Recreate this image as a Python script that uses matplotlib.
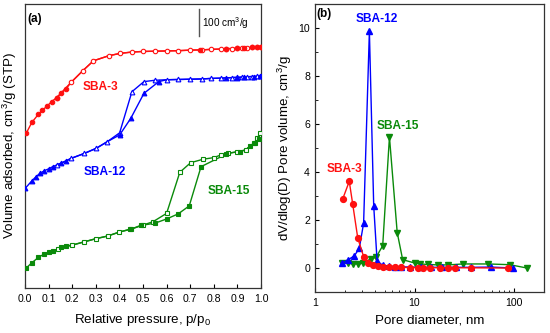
import numpy as np
import matplotlib
matplotlib.use('Agg')
import matplotlib.pyplot as plt
from matplotlib.ticker import MultipleLocator, FixedLocator, LogLocator, NullFormatter

plt.rcParams['font.family'] = ['Liberation Sans', 'DejaVu Sans']
plt.rcParams['mathtext.fontset'] = 'custom'
plt.rcParams['mathtext.rm'] = 'Liberation Sans'
plt.rcParams['mathtext.it'] = 'Liberation Sans:italic'

RED, BLUE, GREEN = '#ff1010', '#0000ff', '#0a8a0a'

# ── (a) isotherms, volume in cm3/g (curves offset) ───────────────────────────
sba3_ads_p = [0.006, 0.029, 0.057, 0.074, 0.093, 0.113, 0.134, 0.154, 0.174,
              0.74, 0.852, 0.90, 0.93, 0.96, 0.985, 0.998]
sba3_ads_v = [582, 621, 652, 667, 682, 699, 714, 730, 747,
              893, 898, 900, 901, 902, 903, 904]
sba3_des_p = [0.998, 0.983, 0.96, 0.94, 0.918, 0.897, 0.876, 0.85, 0.83, 0.79,
              0.75, 0.70, 0.65, 0.60, 0.55, 0.50, 0.455, 0.404, 0.355, 0.29,
              0.245, 0.195, 0.134]
sba3_des_v = [904, 903, 902, 901, 900, 899, 898, 897, 896, 895,
              893, 892, 890, 889, 888, 887, 885, 880, 871, 852,
              815, 771, 714]
sba3_loop = (1.1, 1.1)          # no hysteresis

sba12_ads_p = [0.001, 0.029, 0.046, 0.063, 0.082, 0.10, 0.117, 0.153, 0.174,
               0.401, 0.448, 0.504, 0.567, 0.852, 0.90, 0.93, 0.97, 0.995]
sba12_ads_v = [374, 402, 417, 430, 440, 447, 455, 468, 476,
               574, 636, 730, 774, 788, 789, 791, 793, 794]
sba12_des_p = [0.998, 0.983, 0.96, 0.94, 0.918, 0.897, 0.876, 0.83, 0.79,
               0.75, 0.70, 0.65, 0.60, 0.55, 0.504, 0.453, 0.401, 0.349,
               0.302, 0.252, 0.195, 0.136]
sba12_des_v = [795, 794, 793, 792, 791, 790, 789, 787, 786,
               784, 783, 782, 781, 779, 774, 736, 582, 549,
               524, 505, 486, 462]
sba12_loop = (0.39, 0.58)

sba15_ads_p = [0.004, 0.029, 0.057, 0.082, 0.10, 0.117, 0.153, 0.174, 0.443,
               0.493, 0.55, 0.60, 0.649, 0.696, 0.746, 0.85, 0.91, 0.953,
               0.975, 0.99]
sba15_ads_v = [74, 95, 115, 128, 134, 140, 153, 158, 220,
               236, 243, 259, 278, 308, 455, 501, 511, 533,
               543, 558]
sba15_des_p = [0.995, 0.985, 0.97, 0.935, 0.90, 0.86, 0.83, 0.80, 0.755,
               0.702, 0.656, 0.60, 0.543, 0.50, 0.45, 0.40, 0.35, 0.30,
               0.25, 0.20, 0.138]
sba15_des_v = [580, 561, 543, 518, 511, 505, 499, 489, 483,
               470, 434, 280, 249, 236, 221, 210, 195, 185,
               173, 161, 145]
sba15_loop = (0.53, 0.84)

# ── (b) pore size distributions ──────────────────────────────────────────────
sba3_d = [1.90, 2.21, 2.39, 2.69, 3.08, 3.39, 3.80, 4.34, 4.79, 5.6, 6.4,
          7.3, 9.0, 10.8, 12.3, 14.2, 18.1, 21.6, 25.3, 37.2, 87]
sba3_dv = [2.88, 3.61, 2.68, 1.25, 0.48, 0.23, 0.12, 0.08, 0.06, 0.05, 0.04,
           0.03, 0.02, 0.02, 0.02, 0.02, 0.01, 0.01, 0.01, 0.01, 0.0]
sba12_d = [1.87, 2.16, 2.49, 2.79, 3.08, 3.52, 3.89, 4.21, 4.79, 5.5, 6.3,
           7.4, 9.0, 11.5, 14.5, 19, 26, 37, 59, 98]
sba12_dv = [0.21, 0.35, 0.51, 0.83, 1.87, 9.86, 2.60, 0.28, 0.12, 0.08, 0.06,
            0.05, 0.04, 0.03, 0.03, 0.03, 0.03, 0.03, 0.04, 0.0]
sba15_d = [1.87, 2.13, 2.39, 2.69, 3.02, 3.66, 4.10, 4.79, 5.6, 6.7, 7.6,
           10.0, 11.4, 13.6, 17.2, 21.6, 30.6, 54.7, 90.5, 135]
sba15_dv = [0.23, 0.21, 0.18, 0.17, 0.20, 0.39, 0.44, 0.93, 5.46, 1.48, 0.35,
            0.21, 0.17, 0.15, 0.13, 0.13, 0.17, 0.17, 0.14, 0.0]


def isotherm(ax, ads_p, ads_v, des_p, des_v, loop, color, marker, ms=3.4):
    """Desorption line through the open points; adsorption line through the
    filled points plus the shared open points outside the hysteresis loop."""
    ads_p, ads_v = np.asarray(ads_p), np.asarray(ads_v)
    des_p, des_v = np.asarray(des_p), np.asarray(des_v)
    o = np.argsort(des_p)
    ax.plot(des_p[o], des_v[o], color=color, lw=1.0, zorder=2)
    keep = (des_p < loop[0]) | (des_p > loop[1])
    lp = np.concatenate([ads_p, des_p[keep]])
    lv = np.concatenate([ads_v, des_v[keep]])
    o = np.argsort(lp)
    ax.plot(lp[o], lv[o], color=color, lw=1.0, zorder=2)
    ax.plot(des_p, des_v, ls='none', marker=marker, ms=ms, mew=0.8,
            mfc='white', mec=color, zorder=3)
    ax.plot(ads_p, ads_v, ls='none', marker=marker, ms=ms, mew=0.8,
            mfc=color, mec=color, zorder=4)


fig = plt.figure(figsize=(5.5, 3.33), dpi=100)
ax1 = fig.add_axes([0.0455, 0.135, 0.429, 0.853])
ax2 = fig.add_axes([0.5727, 0.123, 0.4164, 0.865])

# left panel
isotherm(ax1, sba3_ads_p, sba3_ads_v, sba3_des_p, sba3_des_v, sba3_loop, RED, 'o', ms=3.2)
isotherm(ax1, sba12_ads_p, sba12_ads_v, sba12_des_p, sba12_des_v, sba12_loop, BLUE, '^')
isotherm(ax1, sba15_ads_p, sba15_ads_v, sba15_des_p, sba15_des_v, sba15_loop, GREEN, 's', ms=3.0)

ax1.set_xlim(0, 1.0)
ax1.set_ylim(0, 1065)
ax1.xaxis.set_major_locator(MultipleLocator(0.1))
ax1.xaxis.set_major_formatter(plt.FuncFormatter(lambda x, _: f'{x:.1f}'))
ax1.set_yticks([])
ax1.tick_params(axis='x', direction='in', length=3, labelsize=7.6, pad=4)
ax1.set_xlabel('Relative pressure, p/p$_0$', fontsize=9.6, labelpad=6)
ax1.set_ylabel('Volume adsorbed, cm$^3$/g (STP)', fontsize=9.6, labelpad=4)

ax1.text(0.012, 1010, '(a)', fontsize=8.5, fontweight='bold', va='center')
ax1.plot([0.736, 0.736], [945, 1045], color='#555555', lw=1.0)
ax1.text(0.752, 995, '100 cm$^3$/g', fontsize=7.2, va='center')
ax1.text(0.32, 753, 'SBA-3', color=RED, fontsize=8.6, fontweight='bold',
         ha='center', va='center')
ax1.text(0.337, 434, 'SBA-12', color=BLUE, fontsize=8.6, fontweight='bold',
         ha='center', va='center')
ax1.text(0.865, 364, 'SBA-15', color=GREEN, fontsize=8.6, fontweight='bold',
         ha='center', va='center')

# right panel
for d, dv, c, m in [(sba15_d, sba15_dv, GREEN, 'v'),
                    (sba12_d, sba12_dv, BLUE, '^'),
                    (sba3_d, sba3_dv, RED, 'o')]:
    ax2.plot(d, dv, color=c, lw=1.0, marker=m, ms=4.2, mfc=c, mec=c)

ax2.set_xscale('log')
ax2.set_xlim(1, 200)
ax2.set_ylim(-1, 11)
ax2.xaxis.set_major_locator(FixedLocator([1, 10, 100]))
ax2.xaxis.set_major_formatter(plt.FuncFormatter(lambda x, _: f'{x:g}'))
ax2.xaxis.set_minor_locator(LogLocator(base=10, subs=np.arange(2, 10)))
ax2.xaxis.set_minor_formatter(NullFormatter())
ax2.yaxis.set_major_locator(MultipleLocator(2))
ax2.yaxis.set_minor_locator(MultipleLocator(1))
ax2.tick_params(which='both', direction='in', labelsize=7.6)
ax2.tick_params(which='major', length=3)
ax2.tick_params(which='minor', length=1.8)
ax2.tick_params(axis='x', pad=4)
ax2.set_xlabel('Pore diameter, nm', fontsize=9.6, labelpad=5)
ax2.set_ylabel('dV/dlog(D) Pore volume, cm$^3$/g', fontsize=9.6, labelpad=3)

ax2.text(1.03, 10.6, '(b)', fontsize=8.5, fontweight='bold', va='center')
ax2.text(4.21, 10.38, 'SBA-12', color=BLUE, fontsize=8.6, fontweight='bold',
         ha='center', va='center')
ax2.text(6.85, 5.9, 'SBA-15', color=GREEN, fontsize=8.6, fontweight='bold',
         ha='center', va='center')
ax2.text(1.97, 4.13, 'SBA-3', color=RED, fontsize=8.6, fontweight='bold',
         ha='center', va='center')

for ax in (ax1, ax2):
    for s in ax.spines.values():
        s.set_linewidth(0.9)
        s.set_color('#333333')

fig.savefig('out.png', dpi=100)
